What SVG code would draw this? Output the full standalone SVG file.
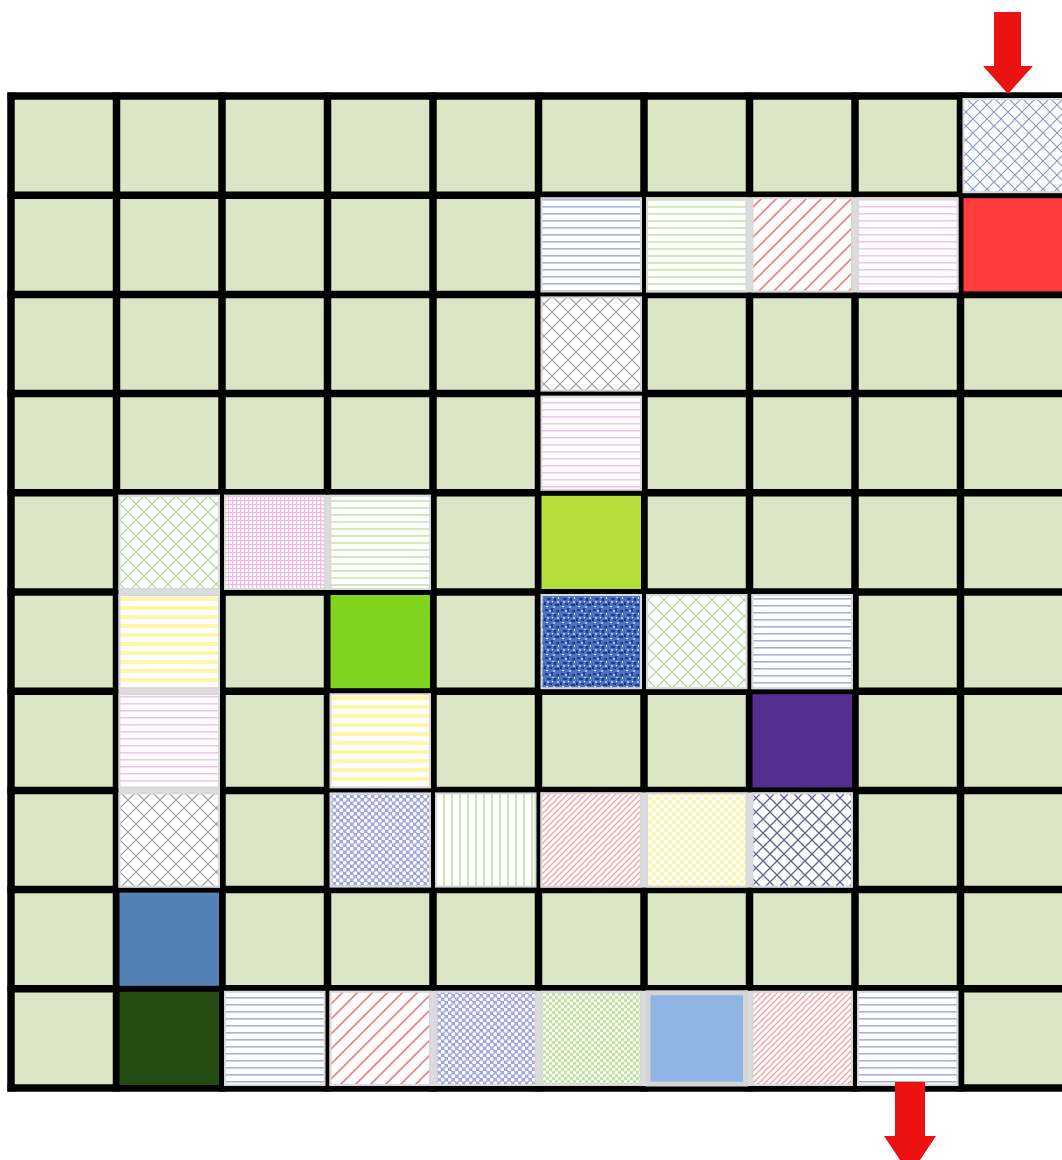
<svg xmlns="http://www.w3.org/2000/svg" width="1062" height="1160" viewBox="0 0 1062 1160">
<style>
.grid line{stroke:#000;stroke-width:7.5}
.pc{stroke:#D8D8D8;stroke-width:2}
.br{fill:#DCDCDC}
.arrow{fill:#EC1212}
</style>
<defs>
<pattern id="hlBlue" patternUnits="userSpaceOnUse" width="8" height="7"><rect width="8" height="7" fill="#fff"/><rect y="3" width="8" height="1.6" fill="#A9B1D8"/></pattern>
<pattern id="hlGreen" patternUnits="userSpaceOnUse" width="8" height="7"><rect width="8" height="7" fill="#fff"/><rect y="3" width="8" height="1.8" fill="#D2E6B4"/></pattern>
<pattern id="hlPink" patternUnits="userSpaceOnUse" width="8" height="7"><rect width="8" height="7" fill="#fff"/><rect y="3" width="8" height="1.6" fill="#F0C9EA"/></pattern>
<pattern id="hlYellow" patternUnits="userSpaceOnUse" width="8" height="9"><rect width="8" height="9" fill="#fff"/><rect y="3" width="8" height="4" fill="#FFF6A8"/></pattern>
<pattern id="vlGreen" patternUnits="userSpaceOnUse" width="8" height="8"><rect width="8" height="8" fill="#fff"/><rect x="3" width="2" height="8" fill="#CFE4B0"/></pattern>
<pattern id="dgRedWide" patternUnits="userSpaceOnUse" width="15" height="15"><rect width="15" height="15" fill="#fff"/><path d="M0,15 L15,0 M-3,3 L3,-3 M12,18 L18,12" stroke="#F08080" stroke-width="1.6"/></pattern>
<pattern id="dgRedThin" patternUnits="userSpaceOnUse" width="6" height="6"><rect width="6" height="6" fill="#fff"/><path d="M0,6 L6,0 M-1.5,1.5 L1.5,-1.5 M4.5,7.5 L7.5,4.5" stroke="#F2A0A0" stroke-width="1.3"/></pattern>
<pattern id="dmBlue" patternUnits="userSpaceOnUse" width="14" height="14"><rect width="14" height="14" fill="#fff"/><path d="M0,0 L14,14 M14,0 L0,14" stroke="#8C98CC" stroke-width="1.2"/></pattern>
<pattern id="dmGray" patternUnits="userSpaceOnUse" width="16" height="16"><rect width="16" height="16" fill="#fff"/><path d="M0,0 L16,16 M16,0 L0,16" stroke="#9A9A9A" stroke-width="1.2"/></pattern>
<pattern id="dmGreen" patternUnits="userSpaceOnUse" width="16" height="16"><rect width="16" height="16" fill="#fff"/><path d="M0,0 L16,16 M16,0 L0,16" stroke="#AED296" stroke-width="1.2"/></pattern>
<pattern id="dmDark" patternUnits="userSpaceOnUse" width="14" height="14"><rect width="14" height="14" fill="#fff"/><path d="M0,0 L14,14 M14,0 L0,14" stroke="#5C6494" stroke-width="1.3"/></pattern>
<pattern id="gridPink" patternUnits="userSpaceOnUse" width="4" height="4"><rect width="4" height="4" fill="#fff"/><rect width="4" height="1.2" fill="#F2B8E6"/><rect width="1.2" height="4" fill="#F2B8E6"/></pattern>
<pattern id="dotBlue" patternUnits="userSpaceOnUse" width="7" height="7"><rect width="7" height="7" fill="#A4A8DE"/><circle cx="1.75" cy="1.75" r="1.9" fill="#fff"/><circle cx="5.25" cy="5.25" r="1.9" fill="#fff"/></pattern>
<pattern id="dotGreen" patternUnits="userSpaceOnUse" width="6" height="6"><rect width="6" height="6" fill="#C4E2A6"/><circle cx="1.5" cy="1.5" r="1.6" fill="#fff"/><circle cx="4.5" cy="4.5" r="1.6" fill="#fff"/></pattern>
<pattern id="dotYellow" patternUnits="userSpaceOnUse" width="8" height="8"><rect width="8" height="8" fill="#FAF6B4"/><circle cx="2" cy="2" r="2.2" fill="#fff"/><circle cx="6" cy="6" r="2.2" fill="#fff"/></pattern>
<pattern id="noiseBlue" patternUnits="userSpaceOnUse" width="16" height="16"><rect width="16" height="16" fill="#4C70C2"/><rect x="1" y="1" width="3" height="2" fill="#1E3A86"/><rect x="5" y="2" width="2" height="2" fill="#A8C2F2"/><rect x="7" y="0" width="2" height="4" fill="#24428E"/><rect x="12" y="2" width="3" height="2" fill="#1E3A86"/><rect x="3" y="6" width="4" height="2" fill="#22408C"/><rect x="8" y="5" width="2" height="1" fill="#B4CAF4"/><rect x="10" y="6" width="2" height="3" fill="#1E3A86"/><rect x="13" y="9" width="2" height="2" fill="#9CB8EE"/><rect x="0" y="10" width="2" height="3" fill="#1E3A86"/><rect x="3" y="9" width="2" height="2" fill="#A8C2F2"/><rect x="5" y="11" width="3" height="2" fill="#24428E"/><rect x="11" y="12" width="4" height="2" fill="#1E3A86"/><rect x="8" y="9" width="1" height="1" fill="#fff"/><rect x="14" y="5" width="1" height="2" fill="#D8E4FA"/><rect x="2" y="14" width="2" height="1" fill="#D8E4FA"/><rect x="9" y="14" width="2" height="2" fill="#A8C2F2"/></pattern>
</defs>
<rect width="1062" height="1160" fill="#fff"/>
<rect id="board" x="11" y="96" width="1055" height="992" fill="#DDE5C7"/>
<g id="gridlines" class="grid">
<line x1="11" y1="92.5" x2="11" y2="1091.5"/>
<line x1="116.5" y1="92.5" x2="116.5" y2="1091.5"/>
<line x1="222" y1="92.5" x2="222" y2="1091.5"/>
<line x1="327.5" y1="92.5" x2="327.5" y2="1091.5"/>
<line x1="433" y1="92.5" x2="433" y2="1091.5"/>
<line x1="538.5" y1="92.5" x2="538.5" y2="1091.5"/>
<line x1="644" y1="92.5" x2="644" y2="1091.5"/>
<line x1="749.5" y1="92.5" x2="749.5" y2="1091.5"/>
<line x1="855" y1="92.5" x2="855" y2="1091.5"/>
<line x1="960.5" y1="92.5" x2="960.5" y2="1091.5"/>
<line x1="7.5" y1="96" x2="1062" y2="96"/>
<line x1="7.5" y1="195.2" x2="1062" y2="195.2"/>
<line x1="7.5" y1="294.4" x2="1062" y2="294.4"/>
<line x1="7.5" y1="393.6" x2="1062" y2="393.6"/>
<line x1="7.5" y1="492.8" x2="1062" y2="492.8"/>
<line x1="7.5" y1="592" x2="1062" y2="592"/>
<line x1="7.5" y1="691.2" x2="1062" y2="691.2"/>
<line x1="7.5" y1="790.4" x2="1062" y2="790.4"/>
<line x1="7.5" y1="889.6" x2="1062" y2="889.6"/>
<line x1="7.5" y1="988.8" x2="1062" y2="988.8"/>
<line x1="7.5" y1="1088" x2="1062" y2="1088"/>
</g>
<g id="bridges">
<rect class="br" x="646" y="197.2" width="312.5" height="95.2"/>
<rect class="br" x="224" y="494.8" width="207" height="95.2"/>
<rect class="br" x="540.5" y="792.4" width="312.5" height="95.2"/>
<rect class="br" x="329.5" y="990.8" width="523.5" height="95.2"/>
<rect class="br" x="118.5" y="494.8" width="101.5" height="392.8"/>
<rect class="br" x="751.5" y="594" width="101.5" height="95.2"/>
</g>
<g id="cells">
<g id="r0c9"><rect class="pc" x="963.5" y="99" width="99.5" height="93.2" fill="url(#dmBlue)"/></g>
<g id="r1c5"><rect class="pc" x="541.5" y="198.2" width="99.5" height="93.2" fill="url(#hlBlue)"/></g>
<g id="r1c6"><rect class="pc" x="647" y="198.2" width="99.5" height="93.2" fill="url(#hlGreen)"/></g>
<g id="r1c7"><rect class="pc" x="752.5" y="198.2" width="99.5" height="93.2" fill="url(#dgRedWide)"/></g>
<g id="r1c8"><rect class="pc" x="858" y="198.2" width="99.5" height="93.2" fill="url(#hlPink)"/></g>
<g id="r1c9"><rect x="963.5" y="198.2" width="99.5" height="93.2" fill="#FF3B3B"/></g>
<g id="r2c5"><rect class="pc" x="541.5" y="297.4" width="99.5" height="93.2" fill="url(#dmGray)"/></g>
<g id="r3c5"><rect class="pc" x="541.5" y="396.6" width="99.5" height="93.2" fill="url(#hlPink)"/></g>
<g id="r4c1"><rect class="pc" x="119.5" y="495.8" width="99.5" height="93.2" fill="url(#dmGreen)"/></g>
<g id="r4c2"><rect class="pc" x="225" y="495.8" width="99.5" height="93.2" fill="url(#gridPink)"/></g>
<g id="r4c3"><rect class="pc" x="330.5" y="495.8" width="99.5" height="93.2" fill="url(#hlGreen)"/></g>
<g id="r4c5"><rect x="541.5" y="495.8" width="99.5" height="93.2" fill="#B5DE3A"/></g>
<g id="r5c1"><rect class="pc" x="119.5" y="595" width="99.5" height="93.2" fill="url(#hlYellow)"/></g>
<g id="r5c3"><rect x="330.5" y="595" width="99.5" height="93.2" fill="#80D41E"/></g>
<g id="r5c5"><rect class="pc" x="541.5" y="595" width="99.5" height="93.2" fill="url(#noiseBlue)"/></g>
<g id="r5c6"><rect class="pc" x="647" y="595" width="99.5" height="93.2" fill="url(#dmGreen)"/></g>
<g id="r5c7"><rect class="pc" x="752.5" y="595" width="99.5" height="93.2" fill="url(#hlBlue)"/></g>
<g id="r6c1"><rect class="pc" x="119.5" y="694.2" width="99.5" height="93.2" fill="url(#hlPink)"/></g>
<g id="r6c3"><rect class="pc" x="330.5" y="694.2" width="99.5" height="93.2" fill="url(#hlYellow)"/></g>
<g id="r6c7"><rect x="752.5" y="694.2" width="99.5" height="93.2" fill="#552F8F"/></g>
<g id="r7c1"><rect class="pc" x="119.5" y="793.4" width="99.5" height="93.2" fill="url(#dmGray)"/></g>
<g id="r7c3"><rect class="pc" x="330.5" y="793.4" width="99.5" height="93.2" fill="url(#dotBlue)"/></g>
<g id="r7c4"><rect class="pc" x="436" y="793.4" width="99.5" height="93.2" fill="url(#vlGreen)"/></g>
<g id="r7c5"><rect class="pc" x="541.5" y="793.4" width="99.5" height="93.2" fill="url(#dgRedThin)"/></g>
<g id="r7c6"><rect class="pc" x="647" y="793.4" width="99.5" height="93.2" fill="url(#dotYellow)"/></g>
<g id="r7c7"><rect class="pc" x="752.5" y="793.4" width="99.5" height="93.2" fill="url(#dmDark)"/></g>
<g id="r8c1"><rect x="119.5" y="892.6" width="99.5" height="93.2" fill="#5381B5"/></g>
<g id="r9c1"><rect x="119.5" y="991.8" width="99.5" height="93.2" fill="#234B12"/></g>
<g id="r9c2"><rect class="pc" x="225" y="991.8" width="99.5" height="93.2" fill="url(#hlBlue)"/></g>
<g id="r9c3"><rect class="pc" x="330.5" y="991.8" width="99.5" height="93.2" fill="url(#dgRedWide)"/></g>
<g id="r9c4"><rect class="pc" x="436" y="991.8" width="99.5" height="93.2" fill="url(#dotBlue)"/></g>
<g id="r9c5"><rect class="pc" x="541.5" y="991.8" width="99.5" height="93.2" fill="url(#dotGreen)"/></g>
<g id="r9c6"><rect x="648" y="992.8" width="97.5" height="91.2" fill="#8EB4E3" stroke="#D4D4D4" stroke-width="5"/></g>
<g id="r9c7"><rect class="pc" x="752.5" y="991.8" width="99.5" height="93.2" fill="url(#dgRedThin)"/></g>
<g id="r9c8"><rect class="pc" x="858" y="991.8" width="99.5" height="93.2" fill="url(#hlBlue)"/></g>
</g>
<g id="connectors">
<polygon id="arrow-in" class="arrow" points="994,12 1021,12 1021,66 1033,66 1008,94 983,66 994,66"/>
<polygon id="arrow-out" class="arrow" points="895,1082 925,1082 925,1136 936,1136 910,1175 884,1136 895,1136"/>
</g>
</svg>
